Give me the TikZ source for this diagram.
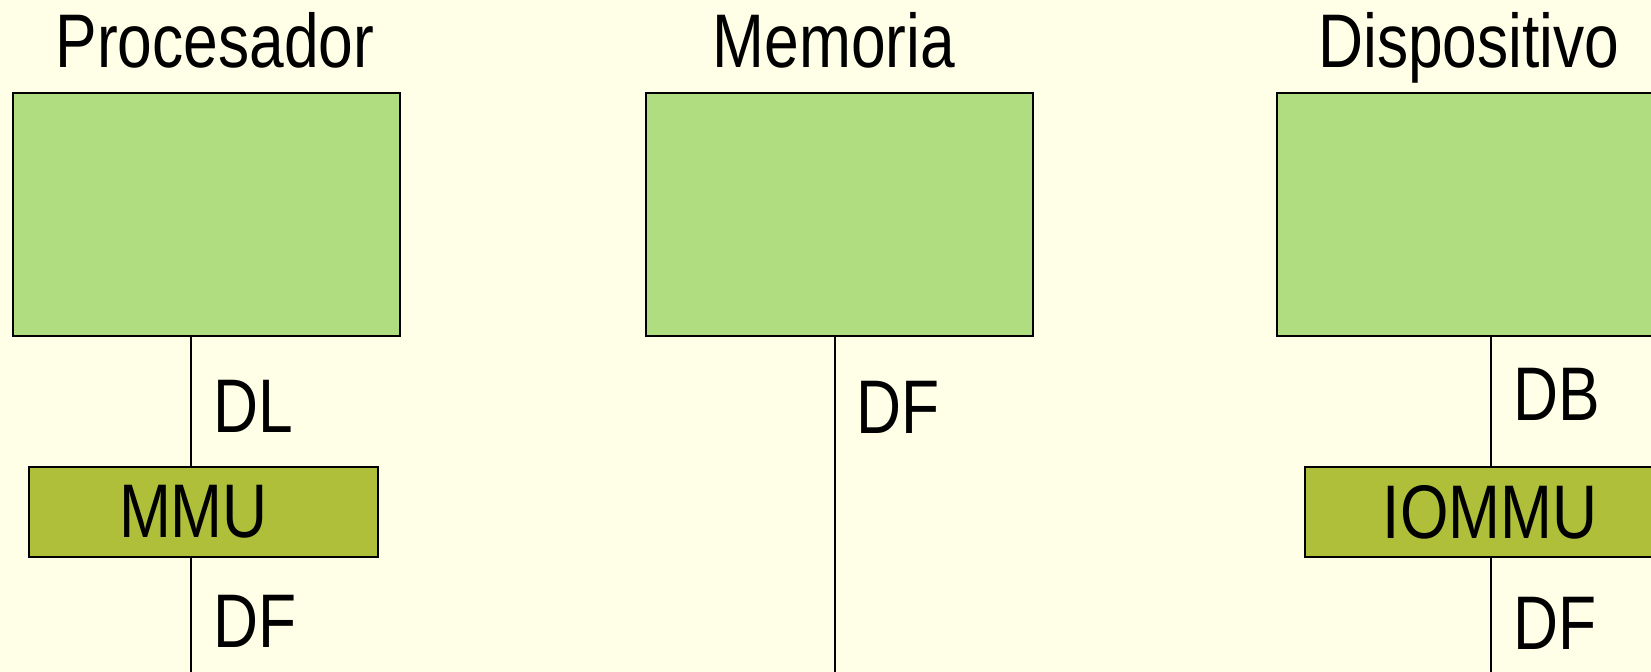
\documentclass[tikz,border=0pt]{standalone}
\usepackage{fontspec}
\setmainfont{Liberation Sans}[FakeStretch=0.82]
\usepackage{tikz}
\usetikzlibrary{positioning}
\definecolor{bgyellow}{RGB}{255,255,232}
\definecolor{unitgreen}{RGB}{175,221,128}
\definecolor{mmuolive}{RGB}{176,191,58}
\tikzset{
    bigfont/.style = {font=\fontsize{38pt}{44pt}\selectfont},
    unit/.style    = {draw=black, line width=1pt, fill=unitgreen,
            minimum width=193.5pt, minimum height=121.5pt,
            inner sep=0pt},
    mmubox/.style  = {draw=black, line width=1pt, fill=mmuolive, bigfont,
            minimum height=45pt, inner sep=0pt},
    title/.style   = {bigfont, anchor=base, inner sep=0pt},
    tag/.style     = {bigfont, anchor=base west, inner sep=0pt},
    bus/.style     = {draw=black, line width=1pt},
}

\begin{document}
\begin{tikzpicture}[x=0.5pt, y=-0.5pt]
            % page and background
            \fill[bgyellow] (0,0) rectangle (1651,672);
            \useasboundingbox (0,0) rectangle (1651,672);
            \clip (0,0) rectangle (1651,672);

            % Nodes
            \node[unit] (proc) at (206.5,214.5) {};
            \node[unit] (mem)  at (839,214.5)   {};
            \node[unit] (disp) at (1470.5,214.5) {};

            \node[title] (procT) at (215,68)  {Procesador};
            \node[title] (memT)  at (834,68)  {Memoria};
            \node[title] (dispT) at (1469,68) {Dispositivo};

            % the MMU text sits a little left of the box centre
            \node[mmubox, minimum width=174.5pt] (mmu)   at (203.5,512) {\hspace*{-10pt}MMU};
            \node[mmubox, minimum width=185pt]   (iommu) at (1490,512)  {IOMMU};

            % bus ends at the bottom edge
            \coordinate (procBus) at (191,672);
            \coordinate (memBus)  at (835,672);
            \coordinate (dispBus) at (1491,672);

            % Lines
            \draw[bus] (proc.south -| procBus) -- (mmu.north -| procBus);
            \draw[bus] (mmu.south -| procBus) -- (procBus);
            \draw[bus] (mem.south -| memBus) -- (memBus);
            \draw[bus] (disp.south -| dispBus) -- (iommu.north -| dispBus);
            \draw[bus] (iommu.south -| dispBus) -- (dispBus);

            % Labels
            \node[tag] (procDL) at (213,433)  {DL};
            \node[tag] (procDF) at (213,648)  {DF};
            \node[tag] (memDF)  at (856,434)  {DF};
            \node[tag] (dispDB) at (1513,421) {DB};
            \node[tag] (dispDF) at (1513,650) {DF};
\end{tikzpicture}
\end{document}
